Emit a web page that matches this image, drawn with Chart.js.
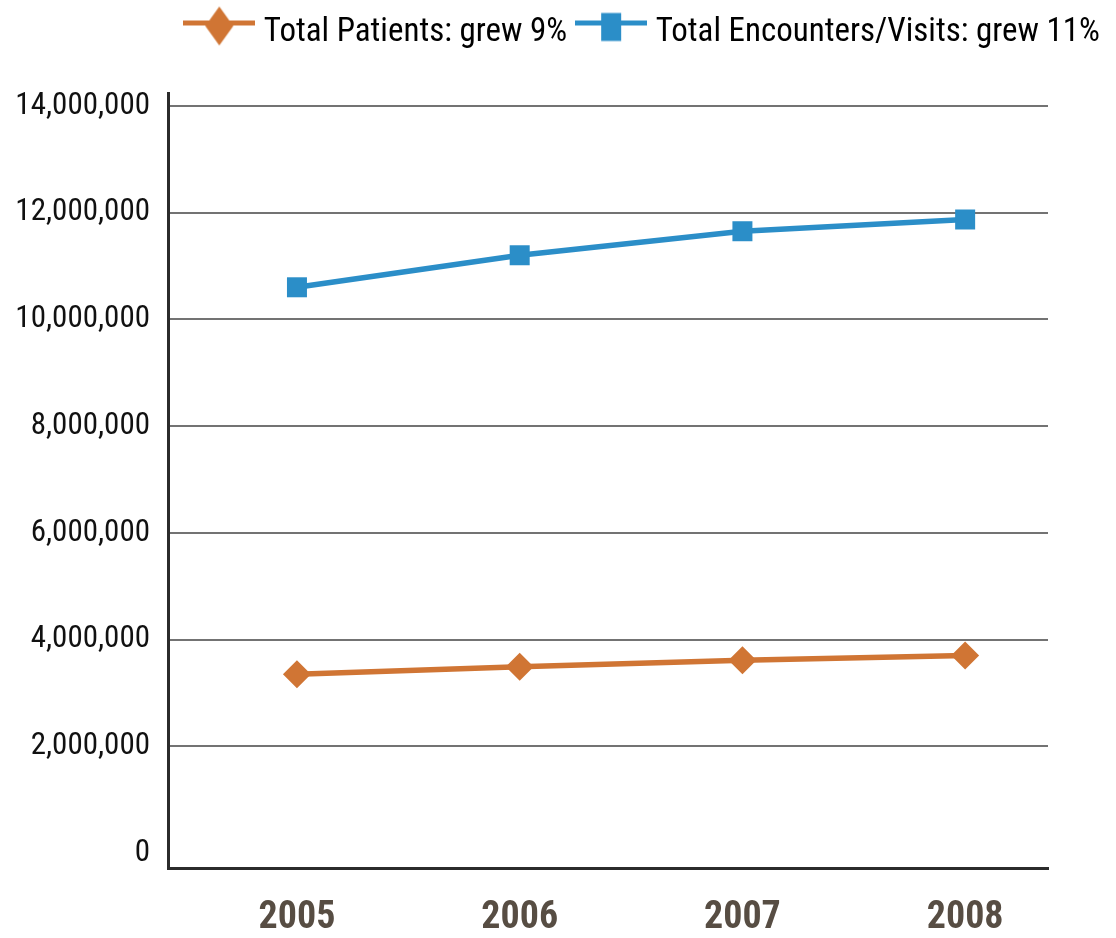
<!DOCTYPE html>
<html><head><meta charset="utf-8">
<script src="https://cdn.jsdelivr.net/npm/chart.js@4/dist/chart.umd.min.js"></script>
<style>html,body{margin:0;padding:0;background:#fff}canvas{display:block}</style>
</head><body><canvas id="c" width="1116" height="938"></canvas>
<script>
const years = [2005, 2006, 2007, 2008];
const patients = [3350000, 3490000, 3610000, 3700000];
const encounters = [10600000, 11200000, 11650000, 11870000];
const seriesLabels = ['Total Patients: grew 9%', 'Total Encounters/Visits: grew 11%'];
const yTickValues = [0, 2000000, 4000000, 6000000, 8000000, 10000000, 12000000, 14000000];

const ORANGE = '#d07534', BLUE = '#2b8ec8';
const FONT = "'Roboto Condensed', 'Liberation Sans Narrow', 'DejaVu Sans Condensed', sans-serif";

function legendImage(color, shape) {
  const c = document.createElement('canvas');
  c.width = 72; c.height = 60;
  const g = c.getContext('2d');
  g.fillStyle = color;
  g.fillRect(0, 18, 72, 5);
  if (shape === 'diamond') {
    g.beginPath();
    g.moveTo(36, 4); g.lineTo(50, 23.5); g.lineTo(36, 43); g.lineTo(22, 23.5);
    g.closePath(); g.fill();
  } else {
    g.fillRect(26, 10.5, 20, 28);
  }
  return c;
}
const legendImgs = [legendImage(ORANGE, 'diamond'), legendImage(BLUE, 'square')];

new Chart(document.getElementById('c'), {
  type: 'line',
  data: {
    datasets: [
      {
        label: seriesLabels[0],
        data: years.map((y, i) => ({x: y, y: patients[i]})),
        borderColor: ORANGE, backgroundColor: ORANGE,
        borderWidth: 5.5, tension: 0,
        pointStyle: 'rectRot', pointRadius: 14, pointBorderWidth: 0,
        pointBackgroundColor: ORANGE
      },
      {
        label: seriesLabels[1],
        data: years.map((y, i) => ({x: y, y: encounters[i]})),
        borderColor: BLUE, backgroundColor: BLUE,
        borderWidth: 5.5, tension: 0,
        pointStyle: 'rect', pointRadius: 14.14, pointBorderWidth: 0,
        pointBackgroundColor: BLUE
      }
    ]
  },
  options: {
    responsive: false,
    animation: false,
    devicePixelRatio: 1,
    layout: {padding: 0},
    plugins: {
      tooltip: {enabled: false},
      legend: {
        position: 'top',
        align: 'end',
        labels: {
          usePointStyle: true,
          pointStyleWidth: 56,
          padding: 16,
          color: '#231f20',
          font: {family: FONT, size: 33},
          generateLabels: chart => chart.data.datasets.map((ds, i) => ({
            text: ds.label,
            pointStyle: legendImgs[i],
            datasetIndex: i,
            fillStyle: ds.borderColor,
            strokeStyle: 'rgba(0,0,0,0)',
            lineWidth: 0,
            hidden: false
          }))
        }
      }
    },
    scales: {
      x: {
        type: 'linear',
        position: 'bottom',
        min: 2004.421,
        max: 2008.372,
        afterBuildTicks: s => { s.ticks = years.map(v => ({value: v})); },
        afterFit: s => { s.height = 70; },
        ticks: {
          callback: v => String(v),
          autoSkip: false, maxRotation: 0,
          font: {family: FONT, size: 38, weight: 'bold'},
          color: '#574d43',
          padding: 28
        },
        grid: {display: false, drawTicks: false},
        border: {display: true, color: '#2b2b2b', width: 3}
      },
      y: {
        type: 'linear',
        position: 'left',
        min: -280000,
        max: 14240000,
        afterBuildTicks: s => { s.ticks = yTickValues.map(v => ({value: v})); },
        afterFit: s => { s.width = 168; },
        ticks: {
          callback: v => v.toLocaleString('en-US'),
          font: {family: FONT, size: 31},
          color: '#111111',
          padding: 18
        },
        grid: {
          color: c => (c.tick && c.tick.value === 0) ? 'rgba(0,0,0,0)' : '#737373',
          lineWidth: 2,
          drawTicks: false
        },
        border: {display: true, color: '#2b2b2b', width: 3}
      },
      xTop: {
        type: 'linear', position: 'top', display: true,
        afterFit: s => { s.height = 34; },
        ticks: {display: false},
        grid: {display: false, drawTicks: false},
        border: {display: false}
      },
      yRight: {
        type: 'linear', position: 'right', display: true,
        afterFit: s => { s.width = 68; },
        ticks: {display: false},
        grid: {display: false, drawTicks: false},
        border: {display: false}
      }
    }
  }
});
</script>
</body></html>
